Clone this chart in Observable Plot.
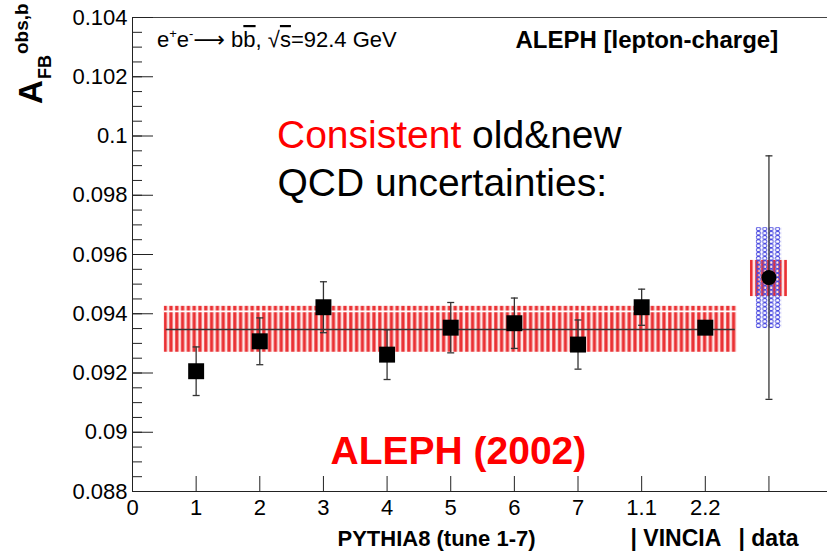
<!DOCTYPE html>
<html><head><meta charset="utf-8">
<script src="https://cdn.jsdelivr.net/npm/d3@7"></script>
<script src="https://cdn.jsdelivr.net/npm/@observablehq/plot@0.6"></script>
<style>
body{margin:0;background:#fff}
svg{font-family:"Liberation Sans",Arial,sans-serif}
</style>
</head><body><div id="chart"></div>
<script>
// ---- data ----
const mcPositions = [1, 2, 3, 4, 5, 6, 7, 8, 9];
const mcValues = [0.09206, 0.09307, 0.09422, 0.09262, 0.09353, 0.09368, 0.09296, 0.09422, 0.09353];
const mcErrors = [0.00082, 0.00079, 0.00086, 0.00084, 0.00085, 0.00085, 0.00083, 0.00061, 0];
const dataPosition = [10];
const dataValue = [0.09522];
const dataError = [0.00411];
const dataRedBand = [0.09458, 0.09580];
const dataBlueBand = [0.09350, 0.09691];
const oldBandX = [0.5, 9.5];
const oldBandY = [0.09270, 0.09425];
const oldMean = [0.09347];
const xTickValues = [0, 1, 2, 3, 4, 5, 6, 7, 8, 9, 10];
const xTickLabels = ["0", "1", "2", "3", "4", "5", "6", "7", "1.1", "2.2"];
const yMajorTicks = [0.088, 0.09, 0.092, 0.094, 0.096, 0.098, 0.1, 0.102, 0.104];
const yMinorTicks = d3.range(0, 33).map(i => 0.088 + i * 0.0005);
const yDomain = [0.088, 0.104];
const xDomain = [0, 10.92];

const mc = mcPositions.map((x, i) => ({x, v: mcValues[i], e: mcErrors[i]}));
const dat = dataPosition.map((x, i) => ({x, v: dataValue[i], e: dataError[i]}));
const mcErr = mc.filter(d => d.e > 0);

const capSymbol = {draw(ctx) { ctx.moveTo(-3.5, 0); ctx.lineTo(3.5, 0); }};
const W = 827, H = 556, ML = 132, MT = 17, MB = 65, MR = 0;
const FW = W - ML - MR, FH = H - MT - MB;

const plot = Plot.plot({
  width: W, height: H,
  marginLeft: ML, marginRight: MR, marginTop: MT, marginBottom: MB,
  x: {domain: xDomain, axis: null},
  y: {domain: yDomain, axis: null},
  style: {fontFamily: '"Liberation Sans", Arial, sans-serif', color: "#000", background: "#fff"},
  marks: [
    // old ALEPH band
    Plot.rect([0], {x1: () => oldBandX[0], x2: () => oldBandX[1], y1: () => oldBandY[0], y2: () => oldBandY[1], fill: "url(#redStripes)"}),
    Plot.ruleY([oldBandY[1]], {y: d => d, x1: () => oldBandX[0], x2: () => oldBandX[1], stroke: "#fff", strokeWidth: 1.6, dy: 5}),
    Plot.ruleY(oldMean, {y: d => d, x1: () => oldBandX[0] + 0.03, x2: () => oldBandX[1] - 0.03, stroke: "#333", strokeWidth: 1.4}),
    // data bands
    Plot.rect(dat, {x1: d => d.x - 0.29, x2: d => d.x + 0.29, y1: () => dataRedBand[0], y2: () => dataRedBand[1], fill: "url(#redStripes)"}),
    Plot.rect(dat, {x1: d => d.x - 0.2, x2: d => d.x + 0.2, y1: () => dataBlueBand[0], y2: () => dataBlueBand[1], fill: "url(#blueHatch)"}),
    // error bars
    Plot.ruleX(mcErr, {x: "x", y1: d => d.v - d.e, y2: d => d.v + d.e, stroke: "#333", strokeWidth: 1.3}),
    Plot.dot(mcErr, {x: "x", y: d => d.v - d.e, symbol: capSymbol, stroke: "#333", strokeWidth: 1.3, r: 3}),
    Plot.dot(mcErr, {x: "x", y: d => d.v + d.e, symbol: capSymbol, stroke: "#333", strokeWidth: 1.3, r: 3}),
    Plot.ruleX(dat, {x: "x", y1: d => d.v - d.e, y2: d => d.v + d.e, stroke: "#333", strokeWidth: 1.3}),
    Plot.dot(dat, {x: "x", y: d => d.v - d.e, symbol: capSymbol, stroke: "#333", strokeWidth: 1.3, r: 3}),
    Plot.dot(dat, {x: "x", y: d => d.v + d.e, symbol: capSymbol, stroke: "#333", strokeWidth: 1.3, r: 3}),
    // markers
    Plot.dot(mc, {x: "x", y: "v", symbol: "square", r: 9, fill: "#000", stroke: "none"}),
    Plot.dot(dat, {x: "x", y: "v", symbol: "circle", r: 7.5, fill: "#000", stroke: "none"}),
    // frame
    Plot.ruleX([xDomain[0]], {x: d => d, stroke: "#222"}),
    Plot.ruleY([yDomain[0]], {y: d => d, stroke: "#222"}),
    Plot.ruleY([yDomain[1]], {y: d => d, stroke: "#444"}),
    // ticks
    Plot.ruleY(yMajorTicks, {y: d => d, insetRight: FW - 21, stroke: "#222"}),
    Plot.ruleY(yMinorTicks, {y: d => d, insetRight: FW - 10, stroke: "#222"}),
    Plot.ruleX(xTickValues, {x: d => d, insetTop: FH - 15, stroke: "#222"}),
    Plot.axisY({ticks: yMajorTicks, tickSize: 0, tickPadding: 5, fontSize: 22, label: null, tickFormat: d => String(+d.toFixed(3))}),
    Plot.axisX({ticks: xTickValues.slice(0, xTickLabels.length), tickSize: 0, tickPadding: 8, fontSize: 22, label: null, tickFormat: i => xTickLabels[i]}),
    // texts
    Plot.text(["ALEPH [lepton-charge]"], {text: d => d, frameAnchor: "top-left", dx: 383, dy: 30, textAnchor: "start", lineAnchor: "bottom", fontSize: 24, fontWeight: "bold", fill: "#000"}),
    Plot.text(["QCD uncertainties:"], {text: d => d, frameAnchor: "top-left", dx: 145, dy: 178, textAnchor: "start", lineAnchor: "bottom", fontSize: 39, fill: "#000"}),
    Plot.text(["ALEPH (2002)"], {text: d => d, frameAnchor: "top-left", dx: 198, dy: 446, textAnchor: "start", lineAnchor: "bottom", fontSize: 39, fontWeight: "bold", fill: "#ff0000"}),
    Plot.text(["PYTHIA8 (tune 1-7)"], {text: d => d, frameAnchor: "top-left", dx: 205, dy: 528, textAnchor: "start", lineAnchor: "bottom", fontSize: 22, fontWeight: "bold", fill: "#000"}),
    Plot.text(["| VINCIA"], {text: d => d, frameAnchor: "top-left", dx: 498, dy: 528, textAnchor: "start", lineAnchor: "bottom", fontSize: 23, fontWeight: "bold", fill: "#000"}),
    Plot.text(["| data"], {text: d => d, frameAnchor: "top-left", dx: 606, dy: 528, textAnchor: "start", lineAnchor: "bottom", fontSize: 23, fontWeight: "bold", fill: "#000"})
  ]
});

const svg = d3.select(plot);
const defs = svg.insert("defs", ":first-child");
const rp = defs.append("pattern").attr("id", "redStripes").attr("patternUnits", "userSpaceOnUse").attr("width", 5.8).attr("height", 10);
rp.append("rect").attr("width", 5.8).attr("height", 10).attr("fill", "#fde6e6");
rp.append("rect").attr("x", 1.2).attr("width", 3.2).attr("height", 10).attr("fill", "#ea3033");
const bp = defs.append("pattern").attr("id", "blueHatch").attr("patternUnits", "userSpaceOnUse").attr("width", 6.4).attr("height", 4.2);
bp.append("ellipse").attr("cx", 3.2).attr("cy", 2.1).attr("rx", 2.2).attr("ry", 1.8).attr("fill", "none").attr("stroke", "#4848e0").attr("stroke-width", 0.9);

// y axis title
const yl = svg.append("text").attr("transform", "translate(42,104) rotate(-90)").attr("text-anchor", "start").attr("font-weight", "bold").attr("fill", "#000");
yl.append("tspan").attr("x", 0).attr("y", 0).attr("font-size", 33).text("A");
yl.append("tspan").attr("x", 25).attr("y", 9).attr("font-size", 18).text("FB");
yl.append("tspan").attr("x", 50).attr("y", -14).attr("font-size", 19).text("obs,b");

// process label
const t = svg.append("text").attr("x", 157).attr("y", 47).attr("text-anchor", "start").attr("font-size", 22).attr("fill", "#000");
t.append("tspan").text("e");
t.append("tspan").attr("font-size", 13).attr("dy", -9).text("+");
t.append("tspan").attr("dy", 9).text("e");
t.append("tspan").attr("font-size", 13).attr("dy", -9).text("-");
t.append("tspan").attr("dy", 9).attr("font-family", "DejaVu Sans").text("\u27F6");
t.append("tspan").text(" b");
t.append("tspan").attr("text-decoration", "overline").text("b");
t.append("tspan").text(", \u221A");
t.append("tspan").attr("text-decoration", "overline").text("s");
t.append("tspan").text("=92.4 GeV");

// consistency label
const c = svg.append("text").attr("x", 277).attr("y", 148).attr("text-anchor", "start").attr("font-size", 39);
c.append("tspan").attr("fill", "#ff0000").text("Consistent");
c.append("tspan").attr("fill", "#000").text(" old&new");

document.getElementById("chart").appendChild(plot);
</script>
</body></html>
